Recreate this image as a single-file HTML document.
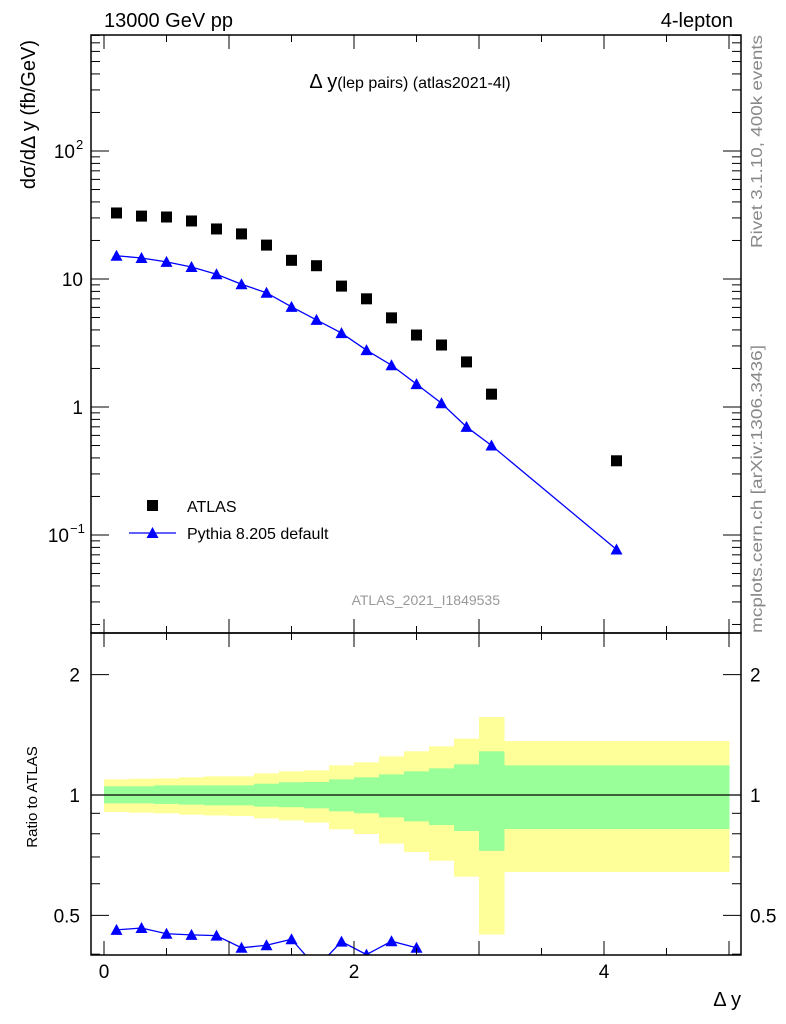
<!DOCTYPE html>
<html><head><meta charset="utf-8"><style>
html,body{margin:0;padding:0;background:#fff;}
svg{display:block;font-family:"Liberation Sans",sans-serif;}
</style></head><body>
<svg id="plot" width="786" height="1024" viewBox="0 0 786 1024" xmlns="http://www.w3.org/2000/svg">
<text x="104" y="27" font-size="20">13000 GeV pp</text>
<text x="733" y="27" font-size="20" text-anchor="end">4-lepton</text>
<text x="410" y="88" font-size="20" text-anchor="middle">Δ y<tspan font-size="16">(lep pairs) (atlas2021-4l)</tspan></text>
<text transform="translate(35,40) rotate(-90)" font-size="20" text-anchor="end">dσ/dΔ y (fb/GeV)</text>
<text transform="translate(37,797) rotate(-90)" font-size="15" text-anchor="middle">Ratio to ATLAS</text>
<text x="741" y="1006" font-size="20" text-anchor="end">Δ y</text>
<text transform="translate(762,248) rotate(-90)" font-size="16" fill="#888" textLength="213" lengthAdjust="spacingAndGlyphs">Rivet 3.1.10,  400k events</text>
<text transform="translate(762,633) rotate(-90)" font-size="16" fill="#888" textLength="288" lengthAdjust="spacingAndGlyphs">mcplots.cern.ch [arXiv:1306.3436]</text>
<text x="500" y="605" font-size="14" fill="#999" text-anchor="end">ATLAS_2021_I1849535</text>
<g>
<rect x="147" y="500" width="11" height="11" fill="#000"/>
<text x="187" y="512" font-size="16">ATLAS</text>
<line x1="129" y1="533" x2="176" y2="533" stroke="#00f" stroke-width="1.3"/>
<path d="M146.5,538 L152.5,527 L158.5,538Z" fill="#00f"/>
<text x="187" y="539" font-size="16">Pythia 8.205 default</text>
</g>
<g id="main"></g>
<g id="ratio"></g>
</svg>
<script>
const xs = [0.1,0.3,0.5,0.7,0.9,1.1,1.3,1.5,1.7,1.9,2.1,2.3,2.5,2.7,2.9,3.1,4.1];
const atlasVals = [32.8,31,30.5,28.4,24.6,22.5,18.4,14,12.7,8.8,7,4.97,3.65,3.05,2.25,1.26,0.38];
const pythiaVals = [15.2,14.6,13.6,12.4,10.9,9.1,7.8,6.06,4.79,3.78,2.78,2.12,1.51,1.07,0.70,0.50,0.077];
const ratioXs = [0.1,0.3,0.5,0.7,0.9,1.1,1.3,1.5,1.7,1.9,2.1,2.3,2.5];
const ratioVals = [0.46,0.465,0.45,0.447,0.445,0.415,0.421,0.436,0.37,0.43,0.399,0.431,0.415];
const binEdges = [0,0.2,0.4,0.6,0.8,1.0,1.2,1.4,1.6,1.8,2.0,2.2,2.4,2.6,2.8,3.0,3.2,5.0];
const yellowUp = [1.094,1.098,1.10,1.107,1.113,1.113,1.133,1.146,1.152,1.186,1.207,1.249,1.286,1.323,1.383,1.567,1.364];
const yellowDn = [0.907,0.903,0.900,0.893,0.889,0.886,0.874,0.864,0.853,0.821,0.799,0.756,0.720,0.685,0.625,0.448,0.642];
const greenUp = [1.051,1.051,1.057,1.057,1.057,1.057,1.067,1.076,1.078,1.094,1.107,1.126,1.146,1.166,1.193,1.286,1.186];
const greenDn = [0.953,0.953,0.950,0.946,0.942,0.942,0.935,0.932,0.926,0.910,0.900,0.879,0.859,0.841,0.813,0.725,0.822];
const xTicks = [0,2,4];
const NS="http://www.w3.org/2000/svg";
const L=91,R=741,T1=35,B1=633,B2=955;
const X=v=>104+125*v;
const Y1=v=>151-128*(Math.log10(v)-2);
const Y2=v=>795-400*Math.log10(v);
function mk(p,tag,at){const e=document.createElementNS(NS,tag);for(const k in at)e.setAttribute(k,at[k]);p.appendChild(e);return e;}
const main=document.getElementById('main'), ratio=document.getElementById('ratio');
const svg=document.getElementById('plot');
const defs=mk(svg,'defs',{});
const cp=mk(defs,'clipPath',{id:'c2'});mk(cp,'rect',{x:L,y:633,width:R-L,height:B2-633});
const cp1=mk(defs,'clipPath',{id:'c1'});mk(cp1,'rect',{x:L,y:T1,width:R-L,height:B1-T1});
const bands=mk(ratio,'g',{'clip-path':'url(#c2)'});
for(let i=0;i<yellowUp.length;i++){
 const x0=X(binEdges[i]),x1=X(binEdges[i+1]);
 const y=mk(bands,'rect',{x:x0,y:Y2(yellowUp[i]),width:x1-x0+0.5,height:Y2(yellowDn[i])-Y2(yellowUp[i]),fill:'#ffff99'});
 
 
}
for(let i=0;i<greenUp.length;i++){
 const x0=X(binEdges[i]),x1=X(binEdges[i+1]);
 const g=mk(bands,'rect',{x:x0,y:Y2(greenUp[i]),width:x1-x0+0.5,height:Y2(greenDn[i])-Y2(greenUp[i]),fill:'#99ff99'});
 
 
}
const ref=mk(ratio,'line',{x1:L,x2:R,y1:Y2(1),y2:Y2(1),stroke:'#000','stroke-width':1.2});


const rg=mk(ratio,'g',{'clip-path':'url(#c2)'});
const rl=mk(rg,'polyline',{points:ratioXs.map((x,i)=>X(x)+','+Y2(ratioVals[i])).join(' '),fill:'none',stroke:'#00f','stroke-width':1.3});


ratioXs.forEach((x,i)=>{const cx=X(x),cy=Y2(ratioVals[i]);
 const t=mk(rg,'path',{d:`M${cx-6},${cy+5}L${cx},${cy-6}L${cx+6},${cy+5}Z`,fill:'#00f'});
 
 });
const mg=mk(main,'g',{'clip-path':'url(#c1)'});
const pl=mk(mg,'polyline',{points:xs.map((x,i)=>X(x)+','+Y1(pythiaVals[i])).join(' '),fill:'none',stroke:'#00f','stroke-width':1.3});


xs.forEach((x,i)=>{const cx=X(x),cy=Y1(atlasVals[i]);
 const r=mk(mg,'rect',{x:cx-5.5,y:cy-5.5,width:11,height:11,fill:'#000'});
 
 });
xs.forEach((x,i)=>{const cx=X(x),cy=Y1(pythiaVals[i]);
 const t=mk(mg,'path',{d:`M${cx-6},${cy+5}L${cx},${cy-6}L${cx+6},${cy+5}Z`,fill:'#00f'});
 
 });
const f1=mk(main,'rect',{x:L,y:T1,width:R-L,height:B1-T1,fill:'none',stroke:'#000','stroke-width':1.5});


const f2=mk(ratio,'rect',{x:L,y:B1,width:R-L,height:B2-B1,fill:'none',stroke:'#000','stroke-width':1.5});


const tk=mk(svg,'g',{stroke:'#000','stroke-width':1});
function tick(x1,y1,x2,y2){mk(tk,'line',{x1,y1,x2,y2});}
for(let v=0;v<=5.001;v+=0.5){const x=X(v);const maj=Math.abs(v-Math.round(v))<1e-6;const len=maj?14:7;
 tick(x,B1,x,B1-len);tick(x,T1,x,T1+len);tick(x,B2,x,B2-len);tick(x,B1,x,B1+len);}
for(let d=-2;d<=2;d++)for(let m=1;m<10;m++){const v=m*Math.pow(10,d);const y=Y1(v);if(y<T1||y>B1)continue;const len=m==1?18:9;
 tick(L,y,L+len,y);tick(R,y,R-len,y);}
[0.4,0.5,0.6,0.7,0.8,0.9,1,2].forEach(v=>{const y=Y2(v);const len=(v==0.5||v==1||v==2)?18:9;tick(L,y,L+len,y);tick(R,y,R-len,y);});
xTicks.forEach(v=>{const t=mk(svg,'text',{x:X(v),y:978,'font-size':19,'text-anchor':'middle'});t.textContent=v;
 
 });
const yl=[[100,'10','2'],[10,'10',''],[1,'1',''],[0.1,'10','−1']];
yl.forEach(([v,b,e])=>{const t=mk(svg,'text',{x:e?(e.length>1?69:75):83,y:Y1(v)+7,'font-size':19,'text-anchor':'end'});t.textContent=b;
 
 
 if(e){const s=mk(svg,'text',{x:e.length>1?70:76,y:Y1(v)-2,'font-size':13});s.textContent=e;
 
 }});
[[2,'2'],[1,'1'],[0.5,'0.5']].forEach(([v,s])=>{
 const a=mk(svg,'text',{x:80,y:Y2(v)+7,'font-size':19,'text-anchor':'end'});a.textContent=s;
 
 
 const b=mk(svg,'text',{x:750,y:Y2(v)+7,'font-size':19});b.textContent=s;
 
 });
</script>
</body></html>
